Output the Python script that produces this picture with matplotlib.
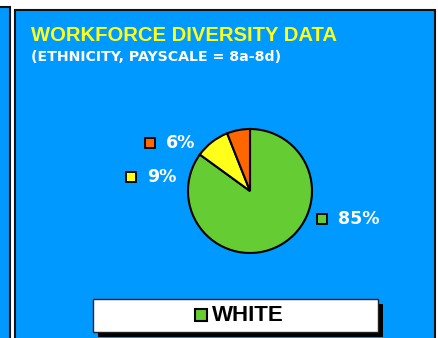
import matplotlib.pyplot as plt
from matplotlib.patches import Rectangle

plt.rcParams["font.family"] = ["Liberation Sans", "DejaVu Sans"]

title = "WORKFORCE DIVERSITY DATA"
subtitle = "(ETHNICITY, PAYSCALE = 8a-8d)"
categories = ["WHITE", "OTHER", "ASIAN"]
shares = [85, 9, 6]
colors = ["#66CC33", "#FFFF1A", "#FF6600"]
legend_items = ["WHITE"]

BLUE = "#0099FF"
W, H = 439, 338


def y(py):
    # pixel row (from top) -> data y
    return H - py


fig = plt.figure(figsize=(W / 100, H / 100), dpi=100)
fig.patch.set_facecolor("white")
ax = fig.add_axes([0, 0, 1, 1])

# background panels
ax.add_patch(Rectangle((-10, y(400)), 20.5, 400 - 6.5, facecolor=BLUE,
                       edgecolor="#111111", lw=1.5, zorder=0))
ax.add_patch(Rectangle((15.5, y(400)), 420 - 0.5, 400 - 9.5, facecolor=BLUE,
                       edgecolor="#111111", lw=1.5, zorder=0))

ax.text(31, y(35.5), title, color="#FFFF1A", fontsize=14.6, fontweight="bold",
        va="center", ha="left")
ax.text(31, y(57), subtitle, color="white", fontsize=10.2, fontweight="bold",
        family="DejaVu Sans", va="center", ha="left")

wedges, _ = ax.pie(shares, colors=colors, startangle=90, counterclock=False,
                   center=(250, y(191)), radius=62,
                   wedgeprops=dict(edgecolor="black", linewidth=1.5))

# data labels: marker square + percentage
label_pos = [(322, 219), (131, 177), (150, 143)]
for (lx, ly), v, c in zip(label_pos, shares, colors):
    ax.plot(lx, y(ly), marker="s", markersize=7, markerfacecolor=c,
            markeredgecolor="black", markeredgewidth=1.3, zorder=5)
    ax.text(lx + 16, y(ly), f"{v}%", color="white", fontsize=12.5,
            fontweight="bold", family="DejaVu Sans", va="center", ha="left")

# legend box with shadow
ax.add_patch(Rectangle((98.5, y(337)), 285, 33, facecolor="black", lw=0, zorder=3))
ax.add_patch(Rectangle((93, y(332)), 285, 33, facecolor="white",
                       edgecolor="#222222", lw=1, zorder=4))
ax.plot(201, y(315), marker="s", markersize=9, markerfacecolor=colors[0],
        markeredgecolor="black", markeredgewidth=1.5, zorder=5)
ax.text(212, y(315.5), legend_items[0], color="black", fontsize=16,
        fontweight="bold", va="center", ha="left", zorder=5)

ax.set_xlim(0, W)
ax.set_ylim(0, H)
ax.set_aspect("auto")
ax.axis("off")

fig.savefig("out.png", dpi=100, facecolor=fig.get_facecolor())
